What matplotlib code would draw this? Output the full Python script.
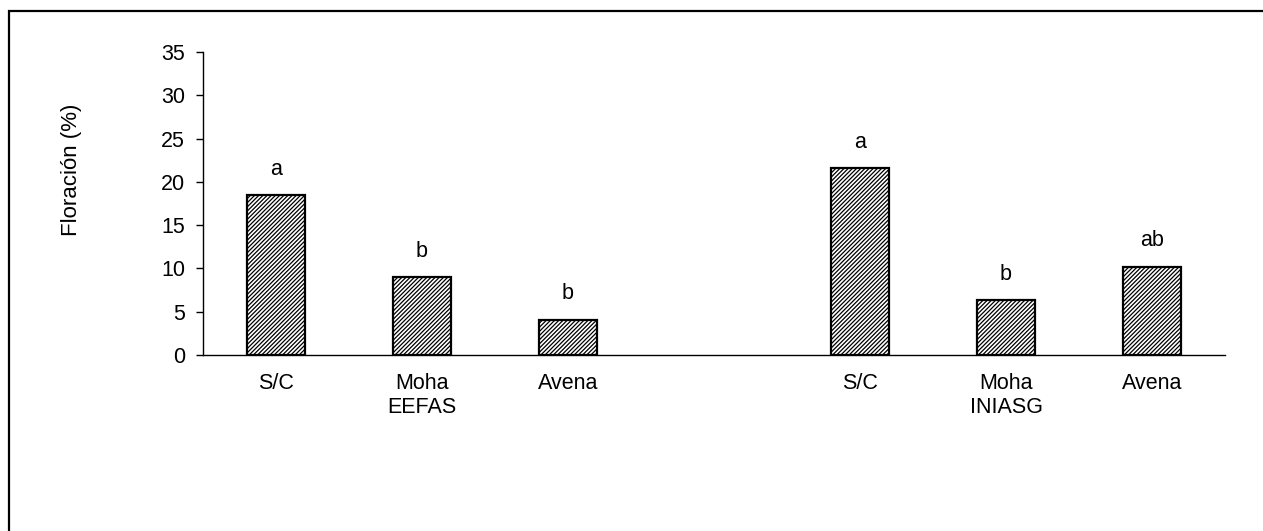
import matplotlib
matplotlib.use("Agg")
import matplotlib.pyplot as plt
from matplotlib.patches import Rectangle

plt.rcParams['font.family'] = ['Liberation Sans', 'DejaVu Sans']
plt.rcParams['hatch.linewidth'] = 0.9

categories = ["S/C", "Moha\nEEFAS", "Avena", "", "S/C", "Moha\nINIASG", "Avena"]
values = [18.5, 9.0, 4.1, None, 21.6, 6.3, 10.2]
letters = ["a", "b", "b", "", "a", "b", "ab"]
yticks = [0, 5, 10, 15, 20, 25, 30, 35]

fs = 15.5
fig = plt.figure(figsize=(12.63, 5.31), dpi=100)
ax = fig.add_axes([203/1263, 1-355/531, (1225-203)/1263, (355-52)/531])

pos = [i for i, v in enumerate(values) if v is not None]
vals = [v for v in values if v is not None]
labs = [letters[i] for i in pos]
bars = ax.bar(pos, vals, width=0.4, color='white', edgecolor='black',
              linewidth=1.6, hatch='////////', zorder=2)
for b, l in zip(bars, labs):
    ax.annotate(l, (b.get_x() + b.get_width()/2, b.get_height()),
                xytext=(0, 11), textcoords='offset points',
                ha='center', va='bottom', fontsize=fs)

ax.set_xlim(-0.5, 6.5)
ax.set_ylim(0, 35)
ax.set_yticks(yticks)
ax.set_xticks(range(len(categories)))
ax.set_xticklabels(categories, fontsize=fs, linespacing=1.2)
ax.tick_params(axis='x', length=0, pad=13)
ax.tick_params(axis='y', length=5, width=1, labelsize=fs, pad=8)
for s in ['top', 'right']:
    ax.spines[s].set_visible(False)
ax.spines['left'].set_linewidth(1)
ax.spines['bottom'].set_linewidth(1)
ax.set_ylabel('Floración (%)', fontsize=16)
ax.yaxis.set_label_coords((82-203)/1022, (355-170)/303)

fig.patches.append(Rectangle((9/1263, -0.1), 1.2, 1.1 - 11/531,
                             transform=fig.transFigure, fill=False,
                             edgecolor='black', linewidth=1.6))
fig.savefig('out.png', dpi=100)
